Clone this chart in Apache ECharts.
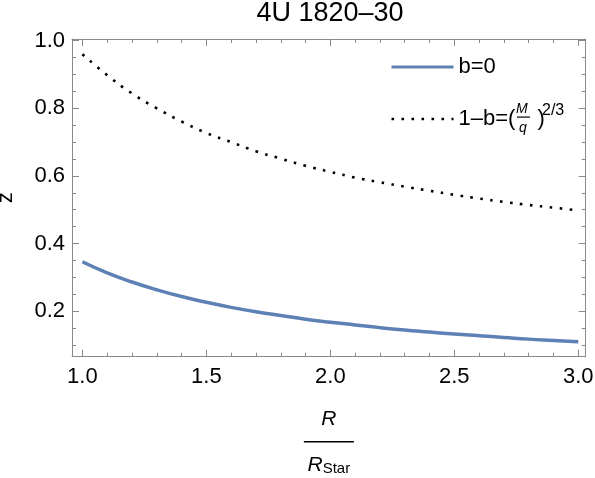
<!DOCTYPE html>
<html>
<head>
<meta charset="utf-8">
<script src="https://cdn.jsdelivr.net/npm/echarts@6/dist/echarts.min.js"></script>
<style>html,body{margin:0;padding:0;background:#fff;}#c{width:595px;height:478px;}</style>
</head>
<body>
<div id="c"></div>
<script>
// ---- data ----
var titleText = '4U 1820–30';
var R = [1.0, 1.1, 1.2, 1.3, 1.4, 1.5, 1.6, 1.7, 1.8, 1.9, 2.0, 2.1, 2.2, 2.3, 2.4, 2.5, 2.6, 2.7, 2.8, 2.9, 3.0];
var zB0 = [0.346, 0.313, 0.286, 0.263, 0.243, 0.226, 0.211, 0.198, 0.187, 0.176, 0.167, 0.159, 0.151, 0.144, 0.138, 0.132, 0.127, 0.122, 0.117, 0.113, 0.109];
var zDot = [0.960, 0.898, 0.844, 0.800, 0.761, 0.727, 0.700, 0.673, 0.651, 0.630, 0.612, 0.595, 0.581, 0.568, 0.556, 0.544, 0.533, 0.523, 0.514, 0.506, 0.498];
var seriesNames = ['b=0', '1–b=(M/q)^(2/3)'];
var xMajor = [1.0, 1.5, 2.0, 2.5, 3.0];
var xMinor = [1.1, 1.2, 1.3, 1.4, 1.6, 1.7, 1.8, 1.9, 2.1, 2.2, 2.3, 2.4, 2.6, 2.7, 2.8, 2.9];
var yMajor = [0.2, 0.4, 0.6, 0.8, 1.0];
var yMinor = [0.1, 0.15, 0.25, 0.3, 0.35, 0.45, 0.5, 0.55, 0.65, 0.7, 0.75, 0.85, 0.9, 0.95];
var xRange = [0.958, 3.03];
var yRange = [0.065, 1.005];

// ---- chart ----
var FONT = '"Liberation Sans", Arial, Helvetica, sans-serif';
var frameColor = '#8a8a8a';
var gridBox = { left: 72, right: 9.3, top: 39, bottom: 121.3, containLabel: false, outerBoundsMode: 'none' };
function pairs(xs, ys) { return xs.map(function (x, i) { return [x, ys[i]]; }); }
function fmt(v) { return v.toFixed(1); }

function axis(kind, grid, pos, vals, len, showLine, showLabel, extra) {
  var range = kind === 'x' ? xRange : yRange;
  var a = {
    type: 'value', position: pos, min: range[0], max: range[1], gridIndex: grid,
    axisLine: { show: showLine, onZero: false, lineStyle: { color: frameColor, width: 1 } },
    axisTick: { show: true, inside: true, length: len, customValues: vals, lineStyle: { color: frameColor, width: 1 } },
    axisLabel: { show: showLabel, customValues: kind === 'x' ? xMajor : yMajor, margin: kind === 'x' ? 9 : 7,
      color: '#000', fontSize: 22, fontFamily: FONT, formatter: fmt },
    splitLine: { show: false }
  };
  return Object.assign(a, extra || {});
}

var chart = echarts.init(document.getElementById('c'), null, { renderer: 'canvas' });
var option = {
  backgroundColor: '#fff',
  animation: false,
  title: {
    text: titleText, left: 325, top: -5, textAlign: 'center',
    textStyle: { fontSize: 27, fontWeight: 'normal', color: '#000', fontFamily: FONT }
  },
  grid: [Object.assign({}, gridBox), Object.assign({}, gridBox)],
  legend: {
    orient: 'vertical', left: 385, top: 51, itemWidth: 62, itemHeight: 14, itemGap: 30,
    data: [
      { name: seriesNames[0], lineStyle: { width: 3 } },
      { name: seriesNames[1], lineStyle: { width: 2.6 } }
    ],
    itemStyle: { opacity: 0, borderWidth: 0 },
    textStyle: {
      color: '#000', fontFamily: FONT, fontSize: 22,
      rich: {
        b: { fontSize: 22, fontFamily: FONT, color: '#000', lineHeight: 22 },
        t: { fontSize: 22, fontFamily: FONT, color: '#000', lineHeight: 22 },
        gap: { width: 22, fontSize: 12, lineHeight: 22 }
      }
    },
    formatter: function (name) {
      if (name === seriesNames[0]) return '{b|b=0}';
      return '{t|1–b=(}{gap| }{t|)}';
    }
  },
  graphic: [
    { type: 'text', left: 516, top: 102, style: { text: 'M', fontSize: 14, fontStyle: 'italic', fontFamily: FONT, fill: '#000' } },
    { type: 'rect', shape: { x: 517, y: 116.5, width: 13, height: 1.2 }, style: { fill: '#000' } },
    { type: 'text', left: 519, top: 121, style: { text: 'q', fontSize: 14, fontStyle: 'italic', fontFamily: FONT, fill: '#000' } },
    { type: 'text', left: 542, top: 103, style: { text: '2/3', fontSize: 16, fontFamily: FONT, fill: '#000' } }
  ],
  xAxis: [
    axis('x', 0, 'bottom', xMajor, 7, true, true, {
      name: '{r|R}\n{bar| }\n{r|R}{sub|Star}', nameLocation: 'middle', nameGap: 50,
      nameTextStyle: {
        color: '#000', fontFamily: FONT,
        rich: {
          r: { fontSize: 21, fontStyle: 'italic', fontFamily: FONT, color: '#000', lineHeight: 24 },
          bar: { width: 50, height: 1.5, fontSize: 1, lineHeight: 22, backgroundColor: '#000' },
          sub: { fontSize: 15, fontFamily: FONT, color: '#000', lineHeight: 24, padding: [8, 0, 0, 0] }
        }
      }
    }),
    axis('x', 0, 'top', xMajor, 7, true, false),
    axis('x', 1, 'bottom', xMinor, 4, false, false),
    axis('x', 1, 'top', xMinor, 4, false, false)
  ],
  yAxis: [
    axis('y', 0, 'left', yMajor, 7, true, true, {
      name: 'z', nameLocation: 'middle', nameRotate: 90, nameGap: 55,
      nameTextStyle: { color: '#000', fontSize: 22, fontFamily: FONT }
    }),
    axis('y', 0, 'right', yMajor, 7, true, false),
    axis('y', 1, 'left', yMinor, 4, false, false),
    axis('y', 1, 'right', yMinor, 4, false, false)
  ],
  series: [
    {
      name: seriesNames[0], type: 'line', xAxisIndex: 0, yAxisIndex: 0,
      data: pairs(R, zB0), showSymbol: false, symbol: 'none', smooth: true,
      lineStyle: { color: '#5E81B5', width: 3.5 }, itemStyle: { color: '#5E81B5' }
    },
    {
      name: seriesNames[1], type: 'line', xAxisIndex: 0, yAxisIndex: 0,
      data: pairs(R, zDot), showSymbol: false, symbol: 'none', smooth: true,
      lineStyle: { color: '#000', width: 2.6, type: [2.6, 7.4], cap: 'butt' }, itemStyle: { color: '#000' }
    }
  ]
};
chart.setOption(option);
</script>
</body>
</html>
